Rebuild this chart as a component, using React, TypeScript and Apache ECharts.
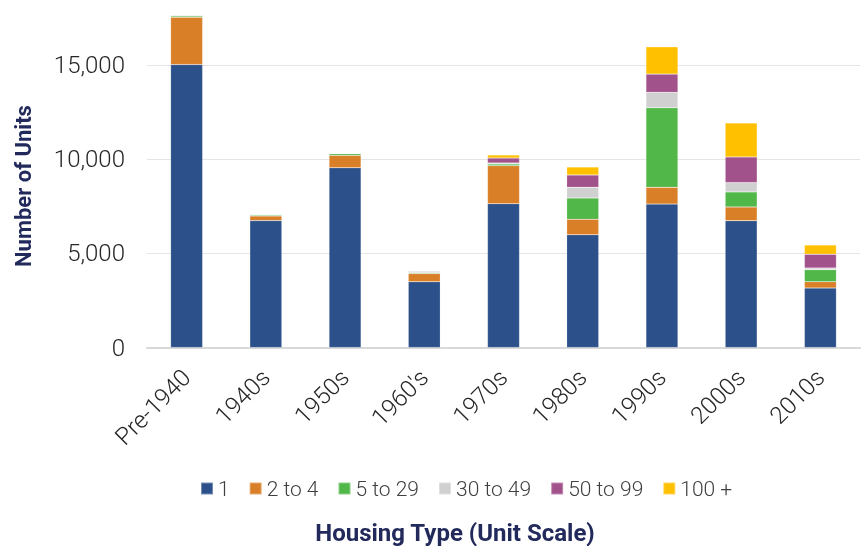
import React, { useEffect, useRef } from "react";
import * as echarts from "echarts";

const categories = ["Pre-1940", "1940s", "1950s", "1960's", "1970s", "1980s", "1990s", "2000s", "2010s"];
const seriesNames = ["1", "2 to 4", "5 to 29", "30 to 49", "50 to 99", "100 +"];
const units1 = [15050, 6750, 9560, 3500, 7650, 6000, 7630, 6745, 3165];
const units2to4 = [2520, 250, 660, 430, 2020, 820, 890, 730, 335];
const units5to29 = [60, 50, 90, 50, 90, 1130, 4230, 800, 640];
const units30to49 = [50, 40, 30, 90, 50, 570, 820, 495, 90];
const units50to99 = [0, 0, 0, 0, 270, 655, 975, 1365, 730];
const units100plus = [0, 0, 0, 0, 160, 425, 1450, 1810, 495];
const yMin = 0;
const yMax = 18484;
const yInterval = 5000;

const colors = ["#2C508A", "#D97F27", "#50B748", "#D0D0D0", "#A2528B", "#FFC000"];
const seriesData = [units1, units2to4, units5to29, units30to49, units50to99, units100plus];

export default function App() {
  const ref = useRef<HTMLDivElement>(null);
  useEffect(() => {
    if (!ref.current) return;
    const chart = echarts.init(ref.current, null, { renderer: "svg" });
    const font = "Roboto, 'Noto Sans', sans-serif";
    chart.setOption({
      animation: false,
      color: colors,
      textStyle: { fontFamily: font },
      grid: { left: 147, right: 5, top: 0, bottom: 198.5, containLabel: false },
      legend: {
        left: 195,
        top: 473,
        itemWidth: 12,
        itemHeight: 12,
        itemGap: 19,
        icon: "rect",
        data: seriesNames,
        textStyle: { fontSize: 21, color: "#404040", fontWeight: 300, fontFamily: font },
      },
      xAxis: {
        type: "category",
        data: categories,
        axisLine: { show: true, lineStyle: { color: "#D9D9D9", width: 2 } },
        axisTick: { show: false },
        axisLabel: {
          rotate: 45,
          margin: 26,
          fontSize: 24,
          fontWeight: 300,
          color: "#262626",
          fontFamily: font,
        },
      },
      yAxis: {
        type: "value",
        min: yMin,
        max: yMax,
        interval: yInterval,
        axisLine: { show: false },
        axisTick: { show: false },
        splitLine: { showMaxLine: false, lineStyle: { color: "#E5E5E5", width: 1 } },
        axisLabel: {
          margin: 22,
          fontSize: 24,
          fontWeight: 300,
          color: "#262626",
          fontFamily: font,
          showMaxLabel: false,
          formatter: (v: number) => v.toLocaleString("en-US"),
        },
      },
      graphic: [
        {
          type: "text",
          x: 23,
          y: 186,
          rotation: Math.PI / 2,
          style: {
            text: "Number of Units",
            fontSize: 22,
            fontWeight: "bold",
            fontFamily: font,
            fill: "#222A5C",
            align: "center",
            verticalAlign: "middle",
          },
        },
        {
          type: "text",
          x: 455,
          y: 533,
          style: {
            text: "Housing Type (Unit Scale)",
            fontSize: 24,
            fontWeight: "bold",
            fontFamily: font,
            fill: "#222A5C",
            align: "center",
            verticalAlign: "middle",
          },
        },
      ],
      series: seriesNames.map((name, i) => ({
        name,
        type: "bar",
        stack: "total",
        barWidth: 32,
        data: seriesData[i],
        itemStyle: { color: colors[i], borderColor: "rgba(255,255,255,0.35)", borderWidth: 0.5 },
      })),
    });
    return () => chart.dispose();
  }, []);
  return <div ref={ref} style={{ position: "fixed", left: 0, top: 0, width: 865, height: 546 }} />;
}
